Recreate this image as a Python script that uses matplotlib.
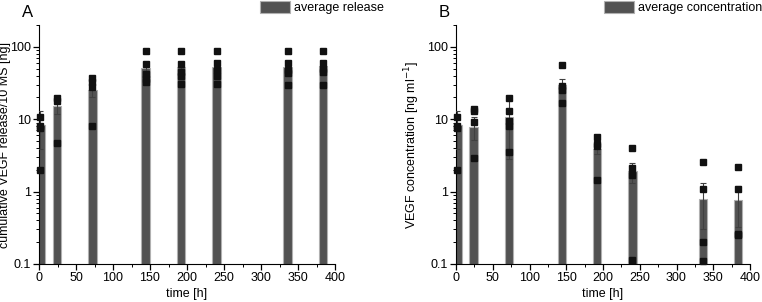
import matplotlib
matplotlib.use('Agg')
import matplotlib.pyplot as plt
from matplotlib.patches import Patch
from matplotlib.ticker import FixedLocator, LogLocator, NullFormatter, FuncFormatter

plt.rcParams['font.family'] = ['Liberation Sans', 'DejaVu Sans']

# --- DATA ---
time_h = [2, 24, 72, 144, 192, 240, 336, 384]

release_mean = [8.4, 15.3, 25.5, 51, 52, 53, 53, 54]
release_err = [4.5, 3.5, 5, 7, 8, 8, 8, 8]
release_points = [
    [10.8, 8.0, 7.6, 2.0],
    [19.5, 18.0, 4.7],
    [37, 33, 28, 8.0],
    [87, 57, 42, 36, 33],
    [87, 58, 45, 40, 31],
    [88, 60, 48, 40, 31],
    [87, 59, 48, 43, 30],
    [88, 60, 50, 45, 30],
]

conc_mean = [8.4, 7.9, 10.8, 29.5, 3.9, 1.9, 0.8, 0.76]
conc_err = [4.5, 2.7, 8, 6, 0.6, 0.6, 0.5, 0.44]
conc_points = [
    [10.8, 8.0, 7.6, 2.0],
    [14, 13, 9.2, 2.9],
    [19.8, 13, 9.5, 8, 3.5],
    [56, 29, 25, 17],
    [5.7, 4.6, 4.3, 1.43],
    [4.0, 2.1, 1.7, 0.114],
    [2.6, 1.07, 0.2, 0.11],
    [2.2, 1.07, 0.26, 0.25],
]

# --- STYLE ---
BAR_COLOR = '#525252'
EDGE_COLOR = '#b0b0b0'
FS = 9


def draw_panel(ax, means, errs, points, ylabel):
    ax.bar(time_h, means, width=11.5, color=BAR_COLOR, edgecolor=EDGE_COLOR,
           linewidth=0.8, zorder=2)
    ax.errorbar(time_h, means, yerr=errs, fmt='none', ecolor='#404040',
                elinewidth=0.8, capsize=2, capthick=0.8, zorder=3)
    for t, pts in zip(time_h, points):
        ax.plot([t] * len(pts), pts, 's', color='#111111', ms=4.5,
                zorder=4, clip_on=False)

    ax.set_yscale('log')
    ax.set_ylim(0.1, 200)
    ax.set_xlim(0, 400)
    ax.spines['top'].set_visible(False)
    ax.spines['right'].set_visible(False)
    ax.yaxis.set_major_locator(FixedLocator([0.1, 1, 10, 100]))
    ax.yaxis.set_major_formatter(FuncFormatter(lambda v, p: '%g' % v))
    ax.yaxis.set_minor_locator(LogLocator(base=10, subs=range(2, 10)))
    ax.yaxis.set_minor_formatter(NullFormatter())
    ax.set_xticks(range(0, 401, 50))
    ax.set_xticks(range(25, 400, 50), minor=True)
    ax.tick_params(which='major', direction='out', length=4, width=0.9,
                   labelsize=FS, pad=2)
    ax.tick_params(which='minor', direction='out', length=2, width=0.7)
    ax.set_xlabel('time [h]', fontsize=FS, labelpad=3)
    ax.set_ylabel(ylabel, fontsize=FS)


fig = plt.figure(figsize=(7.62, 3.02), dpi=100)
ax1 = fig.add_axes([39 / 762, 1 - 264 / 302, 296 / 762, 239 / 302])
ax2 = fig.add_axes([456 / 762, 1 - 264 / 302, 294 / 762, 239 / 302])

draw_panel(ax1, release_mean, release_err, release_points,
           'cumulative VEGF release/10 MS [ng]')
draw_panel(ax2, conc_mean, conc_err, conc_points,
           'VEGF concentration [ng ml$^{-1}$]')
ax1.yaxis.set_label_coords(-0.095, 0.5)
ax2.yaxis.set_label_coords(-0.115, 0.5)

fig.text(22 / 762, 1 - 5 / 302, 'A', fontsize=12, ha='left', va='top')
fig.text(439 / 762, 1 - 5 / 302, 'B', fontsize=12, ha='left', va='top')

for x0, label in [(260 / 762, 'average release'), (604 / 762, 'average concentration')]:
    handle = Patch(facecolor=BAR_COLOR, edgecolor=EDGE_COLOR, linewidth=0.8)
    fig.legend([handle], [label], loc='upper left', bbox_to_anchor=(x0, 0.997),
               frameon=False, fontsize=FS, borderpad=0, borderaxespad=0,
               handlelength=2.4, handleheight=1.1, handletextpad=0.35)

fig.savefig('out.png', dpi=100)
